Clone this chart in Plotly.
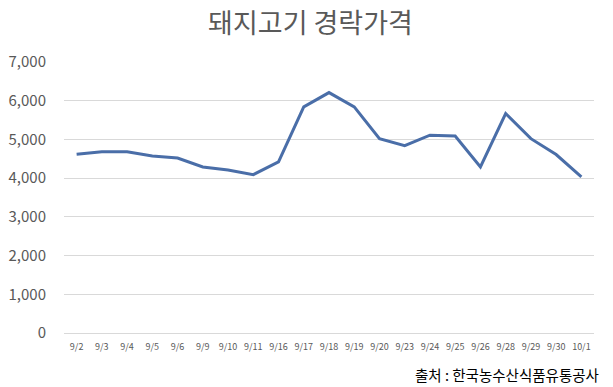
import plotly.graph_objects as go

dates = ["9/2", "9/3", "9/4", "9/5", "9/6", "9/9", "9/10", "9/11", "9/16", "9/17",
         "9/18", "9/19", "9/20", "9/23", "9/24", "9/25", "9/26", "9/28", "9/29", "9/30", "10/1"]
prices = [4620, 4680, 4680, 4570, 4520, 4290, 4210, 4090, 4420, 5840,
          6210, 5840, 5020, 4840, 5110, 5090, 4290, 5670, 5020, 4610, 4030]
y_ticks = [0, 1000, 2000, 3000, 4000, 5000, 6000, 7000]
y_tick_labels = ["0", "1,000", "2,000", "3,000", "4,000", "5,000", "6,000", "7,000"]

FONT = "Noto Sans CJK KR"

fig = go.Figure()
fig.add_trace(go.Scatter(
    x=dates, y=prices, mode="lines",
    line=dict(color="#4a6ea8", width=3),
    hoverinfo="x+y",
))

# page body has an 8px default margin, so the figure is sized to fill the rest
fig.update_layout(
    width=605, height=379,
    margin=dict(l=56, r=19, t=54, b=54),
    paper_bgcolor="white", plot_bgcolor="white",
    showlegend=False,
    font=dict(family=FONT, color="#595959"),
    title=dict(text="돼지고기 경락가격", x=0.5, xanchor="center", y=0.958, yanchor="middle",
               font=dict(family=FONT, size=27, color="#595959")),
    xaxis=dict(
        type="category", range=[-0.5, len(dates) - 0.5], automargin=False,
        showgrid=False, showline=False, zeroline=False,
        ticks="", tickfont=dict(size=9, color="#595959"),
        ticklabelstandoff=7,
    ),
    yaxis=dict(
        range=[0, 7000], tickvals=y_ticks, ticktext=y_tick_labels, automargin=False,
        showgrid=True, gridcolor="#d9d9d9", gridwidth=1,
        zeroline=True, zerolinecolor="#d9d9d9", zerolinewidth=1,
        showline=False, ticks="",
        tickfont=dict(size=15, color="#595959"),
        ticklabelstandoff=17,
    ),
    annotations=[dict(
        text="출처 : 한국농수산식품유통공사", xref="paper", yref="paper",
        x=1.013, y=-0.153, xanchor="right", yanchor="middle", showarrow=False,
        font=dict(family=FONT, size=14.5, color="#000000"),
    )],
)

fig.write_html("out.html")
